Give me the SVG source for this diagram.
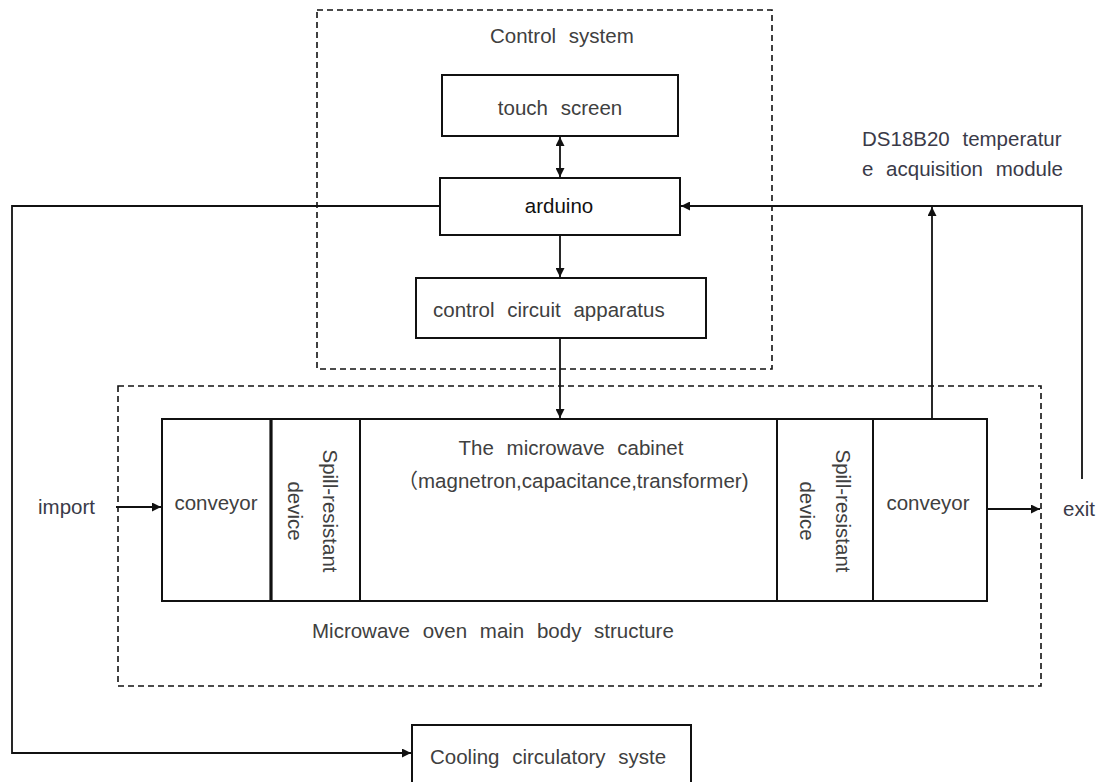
<svg xmlns="http://www.w3.org/2000/svg" width="1104" height="782" viewBox="0 0 1104 782">
<style>
text{font-family:"Liberation Sans",Arial,"Noto Sans CJK SC",sans-serif;font-size:20.5px;word-spacing:7px;fill:#404040}
.dark{fill:#111}
.lbl{fill:#3a3a48}
.box{fill:#fff;stroke:#111;stroke-width:2}
.dash{fill:none;stroke:#111;stroke-width:1.6;stroke-dasharray:6 4}
.ln{fill:none;stroke:#111;stroke-width:1.8}
.div{stroke:#111;stroke-width:2}
</style>
<defs>
<marker id="ah" viewBox="0 0 10 10" refX="10" refY="5" markerWidth="5" markerHeight="5" orient="auto-start-reverse" markerUnits="strokeWidth">
<path d="M0,0 L10,5 L0,10 Z" fill="#111"/>
</marker>
</defs>
<rect width="1104" height="782" fill="#fff"/>

<g id="control-system">
<rect class="dash" x="317" y="10" width="455" height="359"/>
<text x="490" y="43">Control system</text>
</g>
<g id="touch-screen">
<rect class="box" x="442" y="75" width="236" height="61"/>
<text x="560" y="115" text-anchor="middle">touch screen</text>
</g>
<g id="arduino">
<rect class="box" x="440" y="178" width="240" height="57"/>
<text class="dark" x="559" y="213" text-anchor="middle">arduino</text>
</g>
<g id="control-circuit">
<rect class="box" x="416" y="278" width="290" height="60"/>
<text x="433" y="317">control circuit apparatus</text>
</g>

<g id="main-body">
<rect class="dash" x="118" y="386" width="923" height="300"/>
<text x="312" y="638">Microwave oven main body structure</text>
</g>
<g id="oven">
<rect class="box" x="162" y="419" width="825" height="182"/>
<line x1="271" y1="419" x2="271" y2="601" stroke="#111" stroke-width="3.2"/>
<line class="div" x1="360" y1="419" x2="360" y2="601"/>
<line class="div" x1="777" y1="419" x2="777" y2="601"/>
<line class="div" x1="873" y1="419" x2="873" y2="601"/>
</g>
<g id="conveyor-in">
<text x="216" y="510" text-anchor="middle">conveyor</text>
</g>
<g id="spill-in">
<text transform="translate(323 511) rotate(90)" text-anchor="middle">Spill-resistant</text>
<text transform="translate(288 511) rotate(90)" text-anchor="middle">device</text>
</g>
<g id="cabinet">
<text x="571" y="455" text-anchor="middle">The microwave cabinet</text>
<text x="573" y="488" text-anchor="middle">（magnetron,capacitance,transformer)</text>
</g>
<g id="spill-out">
<text transform="translate(836 511) rotate(90)" text-anchor="middle">Spill-resistant</text>
<text transform="translate(800 511) rotate(90)" text-anchor="middle">device</text>
</g>
<g id="conveyor-out">
<text x="928" y="510" text-anchor="middle">conveyor</text>
</g>

<g id="cooling">
<rect class="box" x="412" y="725" width="279" height="80"/>
<text x="430" y="764">Cooling circulatory syste</text>
</g>
<g id="sensor">
<text class="lbl" x="862" y="146">DS18B20 temperatur</text>
<text class="lbl" x="862" y="176">e acquisition module</text>
</g>
<g id="import"><text class="lbl" x="38" y="514">import</text></g>
<g id="exit"><text class="lbl" x="1063" y="516">exit</text></g>

<g id="connectors">
<line class="ln" x1="560" y1="137" x2="560" y2="177" marker-start="url(#ah)" marker-end="url(#ah)"/>
<line class="ln" x1="560" y1="235" x2="560" y2="277" marker-end="url(#ah)"/>
<line class="ln" x1="560" y1="338" x2="560" y2="418" marker-end="url(#ah)"/>
<polyline class="ln" points="440,206 12,206 12,753 411,753" marker-end="url(#ah)"/>
<polyline class="ln" points="1082,479 1082,206 681,206" marker-end="url(#ah)"/>
<line class="ln" x1="932" y1="419" x2="932" y2="207" marker-end="url(#ah)"/>
<line class="ln" x1="116" y1="507" x2="161" y2="507" marker-end="url(#ah)"/>
<line class="ln" x1="987" y1="509" x2="1040" y2="509" marker-end="url(#ah)"/>
</g>
</svg>
